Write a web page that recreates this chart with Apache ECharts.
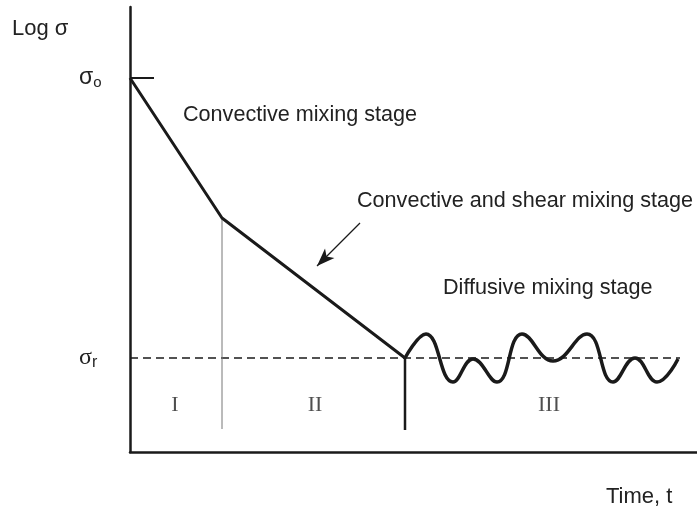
<!DOCTYPE html>
<html>
<head>
<meta charset="utf-8">
<script src="https://cdn.jsdelivr.net/npm/echarts@6/dist/echarts.min.js"></script>
<style>html,body{margin:0;padding:0;background:#fff}#c{width:697px;height:510px}</style>
</head>
<body>
<div id="c"></div>
<script>
// Schematic values (time units along x, log sigma units along y)
var decayLine = [[0, 374], [92, 234], [275, 94]];
var diffusiveWave = [[275, 94], [296, 118], [323, 70], [343, 93], [367, 70], [392, 118], [423, 91], [457, 118], [483, 70], [505, 94], [527, 70], [548, 93]];
var sigmaO = 374;
var sigmaR = 94;
var stageBoundaries = [92, 275];
var stageLabels = ['I', 'II', 'III'];
var stageLabelX = [45, 185, 419];
var arrowFrom = [230, 229];
var arrowTo = [187, 186];

var chart = echarts.init(document.getElementById('c'));
var ink = '#1a1a1a';
var txt = '#222';

chart.setOption({
  animation: false,
  grid: {left: 130, right: 0, top: 7, bottom: 58},
  xAxis: {type: 'value', min: 0, max: 567, axisLine: {show: true, onZero: false, lineStyle: {color: ink, width: 2.5}},
    axisTick: {show: false}, axisLabel: {show: false}, splitLine: {show: false}},
  yAxis: {type: 'value', min: 0, max: 445, axisLine: {show: true, onZero: false, lineStyle: {color: ink, width: 2.5}},
    axisTick: {show: false}, axisLabel: {show: false}, splitLine: {show: false}},
  series: [
    {type: 'line', data: [[0, sigmaR], [550, sigmaR]], symbol: 'none', lineStyle: {color: ink, width: 1.5, type: [8, 5]}, z: 1},
    {type: 'line', data: [[0, sigmaO], [24, sigmaO]], symbol: 'none', lineStyle: {color: ink, width: 2}},
    {type: 'line', data: [[stageBoundaries[0], 234], [stageBoundaries[0], 23]], symbol: 'none', lineStyle: {color: '#777', width: 1}},
    {type: 'line', data: [[stageBoundaries[1], sigmaR], [stageBoundaries[1], 22]], symbol: 'none', lineStyle: {color: ink, width: 2.5}},
    {type: 'line', data: decayLine, symbol: 'none', lineStyle: {color: ink, width: 3}},
    {type: 'line', data: diffusiveWave, symbol: 'none', smooth: 0.45, lineStyle: {color: ink, width: 3.5}},
    {type: 'line', data: [], symbol: 'none',
      markLine: {silent: true, symbol: ['none', 'arrow'], symbolSize: [10, 18], label: {show: false},
        lineStyle: {color: ink, width: 1.2, type: 'solid'},
        data: [[{coord: arrowFrom}, {coord: arrowTo}]]}},
    {type: 'scatter', data: stageLabels.map(function (s, i) { return [stageLabelX[i], 47]; }), symbolSize: 0,
      label: {show: true, position: 'inside', formatter: function (p) { return stageLabels[p.dataIndex]; },
        fontFamily: 'Liberation Serif', fontSize: 22, color: txt}}
  ],
  graphic: [
    {type: 'text', left: 12, top: 18, style: {text: 'Log σ', font: '22px "Liberation Sans"', fill: txt}},
    {type: 'text', x: 79, y: 78, style: {text: '{a|σ}{b|o}', verticalAlign: 'middle', rich: {a: {fontSize: 23, fontFamily: 'Liberation Sans', fill: txt}, b: {fontSize: 15, fontFamily: 'Liberation Sans', fill: txt, padding: [10, 0, 0, 0]}}}},
    {type: 'text', x: 79, y: 358, style: {text: '{a|σ}{b|r}', verticalAlign: 'middle', rich: {a: {fontSize: 24, fontFamily: 'Liberation Serif', fill: txt}, b: {fontSize: 16, fontFamily: 'Liberation Sans', fill: txt, padding: [10, 0, 0, 0]}}}},
    {type: 'text', x: 183, y: 115, style: {text: 'Convective mixing stage', font: '21.6px "Liberation Sans"', fill: txt, verticalAlign: 'middle'}},
    {type: 'text', x: 357, y: 201, style: {text: 'Convective and shear mixing stage', font: '21.6px "Liberation Sans"', fill: txt, verticalAlign: 'middle'}},
    {type: 'text', x: 443, y: 288, style: {text: 'Diffusive mixing stage', font: '21.6px "Liberation Sans"', fill: txt, verticalAlign: 'middle'}},
    {type: 'text', x: 606, y: 497, style: {text: 'Time, t', font: '22px "Liberation Sans"', fill: txt, verticalAlign: 'middle'}}
  ]
});
</script>
</body>
</html>
